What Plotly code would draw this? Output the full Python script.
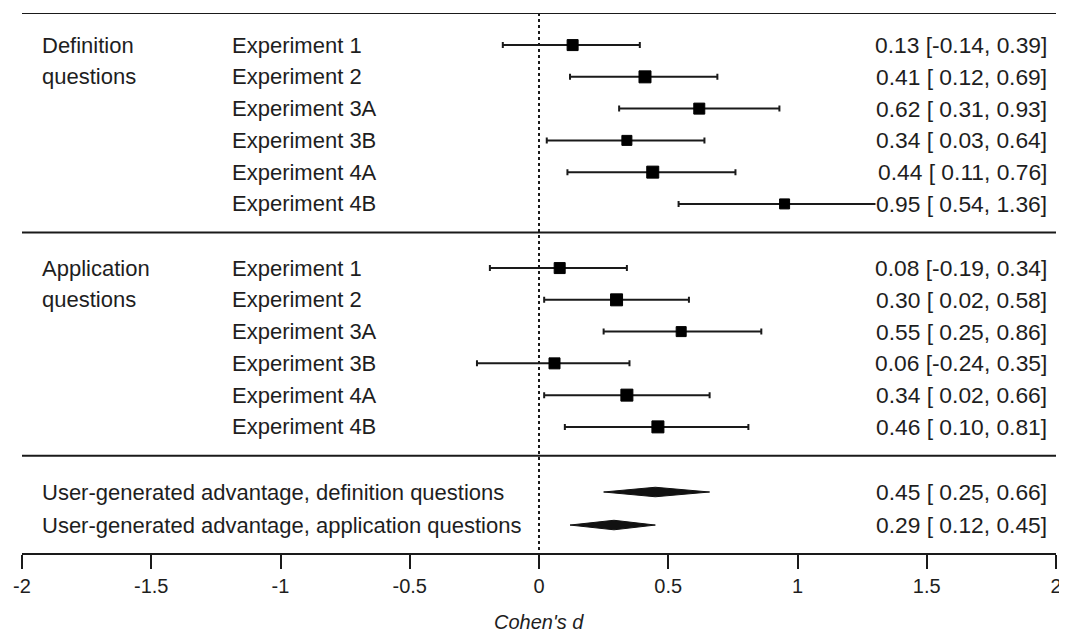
import plotly.graph_objects as go

# ---------------- data ----------------
experiments = ["Experiment 1", "Experiment 2", "Experiment 3A", "Experiment 3B", "Experiment 4A", "Experiment 4B"]

def_est = [0.13, 0.41, 0.62, 0.34, 0.44, 0.95]
def_lo = [-0.14, 0.12, 0.31, 0.03, 0.11, 0.54]
def_hi = [0.39, 0.69, 0.93, 0.64, 0.76, 1.36]

app_est = [0.08, 0.30, 0.55, 0.06, 0.34, 0.46]
app_lo = [-0.19, 0.02, 0.25, -0.24, 0.02, 0.10]
app_hi = [0.34, 0.58, 0.86, 0.35, 0.66, 0.81]

summary_labels = ["User-generated advantage, definition questions",
                  "User-generated advantage, application questions"]
sum_est = [0.45, 0.29]
sum_lo = [0.25, 0.12]
sum_hi = [0.66, 0.45]

tick_vals = [-2, -1.5, -1, -0.5, 0, 0.5, 1, 1.5, 2]
tick_text = ["-2", "-1.5", "-1", "-0.5", "0", "0.5", "1", "1.5", "2"]

# ---------------- style ----------------
FONT = "Liberation Sans, Arial, Helvetica, sans-serif"
TXT = "#1e1e1e"
FS = 22
FS_R = 22.8
def_sizes = [11, 12, 11, 10, 12, 10]
app_sizes = [11, 12, 10, 11, 12, 12]

def_rows = [1.01 + i for i in range(6)]
app_rows = [8.03 + i for i in range(6)]
sum_rows = [15.08, 16.12]
sep_rows = [6.91, 13.94]
Y_TOP, Y_BOT = 0, 17

fig = go.Figure()


def add_group(est, lo, hi, rows, sizes):
    fig.add_trace(go.Scatter(
        x=est, y=rows, mode="markers", opacity=1,
        marker=dict(symbol="square", size=sizes, color="#000000", opacity=1,
                    line=dict(width=1, color="#000000")),
        error_x=dict(type="data", symmetric=False,
                     array=[h - e for h, e in zip(hi, est)],
                     arrayminus=[e - l for e, l in zip(est, lo)],
                     color="#1a1a1a", thickness=2, width=3),
        showlegend=False, hoverinfo="skip"))


add_group(def_est, def_lo, def_hi, def_rows, def_sizes)
add_group(app_est, app_lo, app_hi, app_rows, app_sizes)

# summary diamonds
h = 0.15
for e, l, hh, r in zip(sum_est, sum_lo, sum_hi, sum_rows):
    fig.add_trace(go.Scatter(
        x=[l, e, hh, e, l], y=[r, r - h, r, r + h, r],
        mode="lines", fill="toself", fillcolor="#111111",
        line=dict(color="#111111", width=1),
        showlegend=False, hoverinfo="skip"))

annotations = []


def txt(x, y, s, anchor, size=FS, bg=None):
    d = dict(x=x, y=y, xref="x", yref="y", text=s, showarrow=False,
             xanchor=anchor, yanchor="middle",
             font=dict(family=FONT, size=size, color=TXT))
    if bg:
        d["bgcolor"] = bg
        d["borderpad"] = 0
    annotations.append(d)


def fmt(e, l, hh):
    return f"{e:.2f} [{l:5.2f}, {hh:.2f}]".replace(" ", "&nbsp;")


X_GROUP = -1.93
X_EXP = -1.197
X_RIGHT = 1.97

txt(X_GROUP, def_rows[0], "Definition", "left")
txt(X_GROUP, def_rows[1], "questions", "left")
txt(X_GROUP, app_rows[0], "Application", "left")
txt(X_GROUP, app_rows[1], "questions", "left")

for name, r in zip(experiments, def_rows):
    txt(X_EXP, r, name, "left")
for name, r in zip(experiments, app_rows):
    txt(X_EXP, r, name, "left")
for name, r in zip(summary_labels, sum_rows):
    txt(X_GROUP, r, name, "left")

for e, l, hh, r in zip(def_est, def_lo, def_hi, def_rows):
    txt(X_RIGHT, r, fmt(e, l, hh), "right", size=FS_R, bg="white")
for e, l, hh, r in zip(app_est, app_lo, app_hi, app_rows):
    txt(X_RIGHT, r, fmt(e, l, hh), "right", size=FS_R, bg="white")
for e, l, hh, r in zip(sum_est, sum_lo, sum_hi, sum_rows):
    txt(X_RIGHT, r, fmt(e, l, hh), "right", size=FS_R, bg="white")

# axis title (page y ~622 -> figure y ~614)
annotations.append(dict(x=0.5, y=-(614 - 545) / 540, xref="paper", yref="paper",
                        text="<i>Cohen's d</i>", showarrow=False,
                        xanchor="center", yanchor="middle",
                        font=dict(family=FONT, size=20, color=TXT)))

shapes = []
for yy in [Y_TOP] + sep_rows:
    shapes.append(dict(type="line", xref="paper", yref="y", x0=0, x1=1,
                       y0=yy, y1=yy, line=dict(color="#1a1a1a", width=2)))
shapes.append(dict(type="line", xref="x", yref="y", x0=0, x1=0,
                   y0=Y_TOP, y1=Y_BOT, layer="below",
                   line=dict(color="#1a1a1a", width=2, dash="dot")))

# page body has an 8px default margin, so the figure is offset by 8px
fig.update_layout(
    width=1059, height=626, autosize=False,
    margin=dict(l=12, r=7, t=5, b=81),
    paper_bgcolor="white", plot_bgcolor="white",
    annotations=annotations, shapes=shapes,
    xaxis=dict(range=[-2, 2], tickvals=tick_vals, ticktext=tick_text,
               showline=True, linecolor="#1a1a1a", linewidth=2,
               ticks="outside", ticklen=14, tickwidth=2, tickcolor="#1a1a1a",
               showgrid=False, zeroline=False,
               tickfont=dict(family=FONT, size=20, color=TXT)),
    yaxis=dict(range=[Y_BOT, Y_TOP], visible=False, showgrid=False,
               zeroline=False),
)

fig.write_html("out.html")
